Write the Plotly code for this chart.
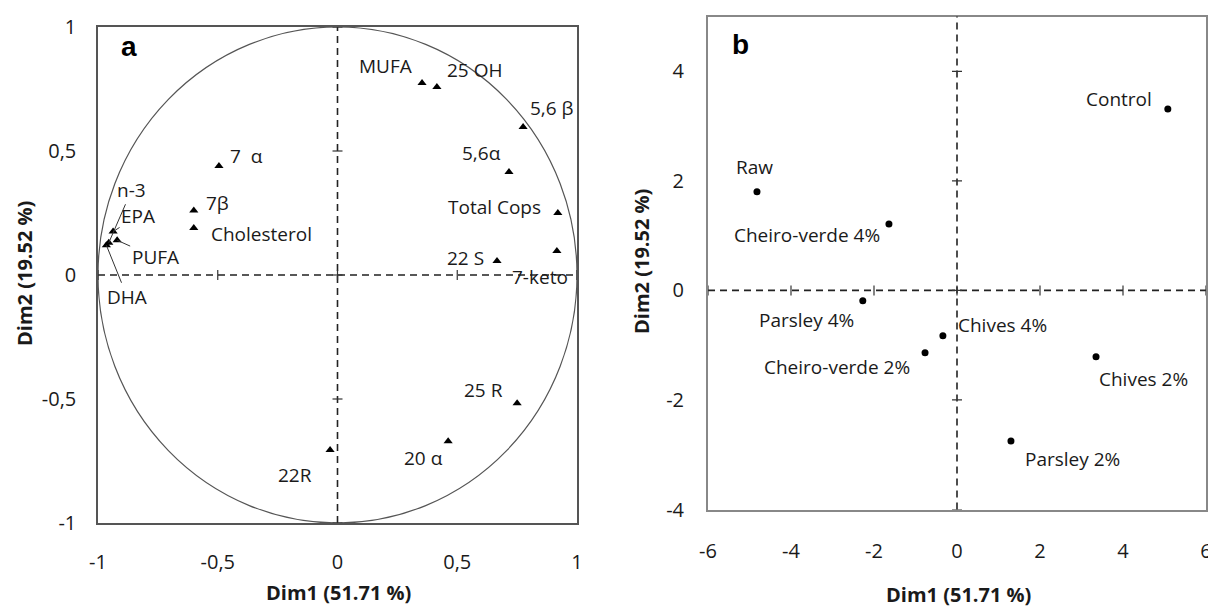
import plotly.graph_objects as go

# ---------------- data ----------------
# Panel a: variable loadings on Dim1 / Dim2
var_names = ["7\u00a0 α", "7β", "Cholesterol", "MUFA", "25 OH", "5,6 β", "5,6α",
             "Total Cops", "22 S", "7-keto", "25 R", "20 α", "22R"]
var_dim1 = [-0.495, -0.60, -0.60, 0.353, 0.415, 0.775, 0.716, 0.92, 0.666, 0.916, 0.75, 0.462, -0.031]
var_dim2 = [0.44, 0.26, 0.19, 0.774, 0.758, 0.597, 0.415, 0.25, 0.056, 0.097, -0.517, -0.67, -0.706]

# fatty-acid variables clustered at the left (labelled with leader lines)
fa_names = ["n-3", "EPA", "PUFA", "DHA"]
fa_dim1 = [-0.955, -0.937, -0.92, -0.965]
fa_dim2 = [0.13, 0.175, 0.14, 0.12]

# Panel b: sample scores
sample_names = ["Control", "Raw", "Cheiro-verde 4%", "Parsley 4%", "Chives 4%",
                "Cheiro-verde 2%", "Chives 2%", "Parsley 2%"]
sample_dim1 = [5.08, -4.82, -1.64, -2.27, -0.34, -0.77, 3.35, 1.30]
sample_dim2 = [3.31, 1.80, 1.21, -0.19, -0.83, -1.14, -1.21, -2.75]

# tick labels
a_ticks = [-1, -0.5, 0, 0.5, 1]
a_ticktext = ["-1", "-0,5", "0", "0,5", "1"]
b_xticks = [-6, -4, -2, 0, 2, 4, 6]
b_xticktext = ["-6", "-4", "-2", "0", "2", "4", "6"]
b_yticks = [-4, -2, 0, 2, 4]
b_yticktext = ["-4", "-2", "0", "2", "4"]

x_title = "Dim1 (51.71 %)"
y_title = "Dim2 (19.52 %)"

# ---------------- styles / layout helpers ----------------
FONT = "Open Sans"
TXT = "#1a1a1a"
OFF = 8                      # default page body margin
W, H = 1216 - OFF, 607 - OFF


def px(x):
    return (x - OFF) / W


def py(y):
    return 1 - (y - OFF) / H


var_offsets = [(28, 10), (24, 8), (68, -6), (-37, 17), (38, 17), (29, 19), (-27, 19),
               (-63, 6), (-32, 3), (-17, -26), (-34, 13), (-25, -17), (-35, -25)]
fa_arrows = [(23, -53), (25, -16), (38, 17), (21, 52)]
sample_offsets = [(-49, 10), (-2, 25), (-82, -11), (-56, -19), (60, 11), (-88, -14), (47, -22), (62, -18)]

fig = go.Figure()

fig.add_trace(go.Scatter(x=var_dim1 + fa_dim1, y=var_dim2 + fa_dim2, mode="markers",
                         marker=dict(symbol="triangle-up", size=8, color="black"),
                         xaxis="x", yaxis="y", hoverinfo="skip", showlegend=False))
fig.add_trace(go.Scatter(x=sample_dim1, y=sample_dim2, mode="markers",
                         marker=dict(symbol="circle", size=7, color="black"),
                         xaxis="x2", yaxis="y2", hoverinfo="skip", showlegend=False))

ann = []
lab_font = dict(family=FONT, size=19, color=TXT)
for n, x, y, (dx, dy) in zip(var_names, var_dim1, var_dim2, var_offsets):
    ann.append(dict(x=x, y=y, xref="x", yref="y", text=n, showarrow=False,
                    xshift=dx, yshift=dy, font=lab_font))
for n, x, y, (ax, ay) in zip(fa_names, fa_dim1, fa_dim2, fa_arrows):
    ann.append(dict(x=x, y=y, xref="x", yref="y", text=n, showarrow=True,
                    ax=ax, ay=ay, arrowhead=0, arrowwidth=1, arrowcolor="#333",
                    standoff=0, font=lab_font))
for n, x, y, (dx, dy) in zip(sample_names, sample_dim1, sample_dim2, sample_offsets):
    ann.append(dict(x=x, y=y, xref="x2", yref="y2", text=n, showarrow=False,
                    xshift=dx, yshift=dy, font=lab_font))

title_font = dict(family=FONT, size=20, color=TXT)
C = dict(xref="paper", yref="paper", showarrow=False, xanchor="center", yanchor="middle")
ann += [
    dict(x=px(338), y=py(592), text="<b>%s</b>" % x_title, font=title_font, **C),
    dict(x=px(24), y=py(274), text="<b>%s</b>" % y_title, textangle=-90, font=title_font, **C),
    dict(x=px(958), y=py(594), text="<b>%s</b>" % x_title, font=title_font, **C),
    dict(x=px(641), y=py(262), text="<b>%s</b>" % y_title, textangle=-90, font=title_font, **C),
    dict(x=px(129), y=py(47), text="<b>a</b>", font=dict(family="Liberation Sans", size=28, color="black"), **C),
    dict(x=px(740), y=py(45), text="<b>b</b>", font=dict(family="Liberation Sans", size=28, color="black"), **C),
]

shapes = []
# correlation circle
shapes.append(dict(type="circle", xref="x", yref="y", x0=-1, y0=-1, x1=1, y1=1,
                   line=dict(color="#555", width=1.2)))
dash_line = dict(color="#222", width=1.6, dash="7px,5px")
for xr, yr, xt, yt in [("x", "y", a_ticks, a_ticks), ("x2", "y2", b_xticks, b_yticks)]:
    shapes.append(dict(type="line", xref=xr + " domain", yref=yr, x0=0, x1=1, y0=0, y1=0, line=dash_line))
    shapes.append(dict(type="line", xref=xr, yref=yr + " domain", x0=0, x1=0, y0=0, y1=1, line=dash_line))
    for t in xt:
        shapes.append(dict(type="line", xref=xr, yref=yr, ysizemode="pixel", yanchor=0,
                           x0=t, x1=t, y0=-5, y1=5, line=dict(color="#333", width=1.2)))
    for t in yt:
        shapes.append(dict(type="line", xref=xr, yref=yr, xsizemode="pixel", xanchor=0,
                           y0=t, y1=t, x0=-5, x1=5, line=dict(color="#333", width=1.2)))

tick_font = dict(family=FONT, size=20, color=TXT)
common = dict(showgrid=False, zeroline=False, showline=True, mirror=True, ticks="",
              automargin=False, tickfont=tick_font, fixedrange=True)

fig.update_layout(
    width=W, height=H, template="none", paper_bgcolor="white", plot_bgcolor="white",
    margin=dict(l=0, r=0, t=0, b=0), showlegend=False,
    xaxis=dict(domain=[px(98), px(577)], range=[-1, 1], tickvals=a_ticks, ticktext=a_ticktext,
               anchor="y", linecolor="#555", linewidth=1.5, ticklabelstandoff=20, **common),
    yaxis=dict(domain=[py(523), py(27)], range=[-1, 1], tickvals=a_ticks, ticktext=a_ticktext,
               anchor="x", linecolor="#555", linewidth=1.5, ticklabelstandoff=16, **common),
    xaxis2=dict(domain=[px(708), px(1206)], range=[-6, 6], tickvals=b_xticks, ticktext=b_xticktext,
                anchor="y2", linecolor="#888", linewidth=2, ticklabelstandoff=22, **common),
    yaxis2=dict(domain=[py(509.5), py(16.5)], range=[-4, 5], tickvals=b_yticks, ticktext=b_yticktext,
                anchor="x2", linecolor="#888", linewidth=2, ticklabelstandoff=18, **common),
    annotations=ann, shapes=shapes,
)

fig.write_html("out.html")
